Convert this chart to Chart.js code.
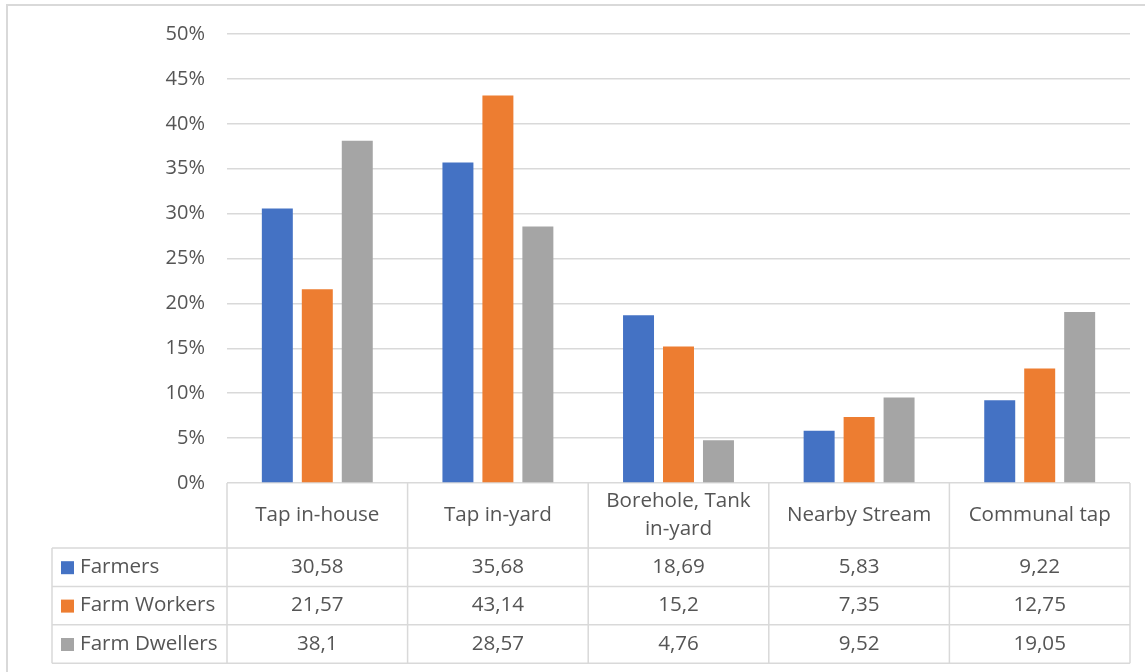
<!DOCTYPE html>
<html>
<head>
<meta charset="utf-8">
<script src="https://cdn.jsdelivr.net/npm/chart.js@4/dist/chart.umd.min.js"></script>
<style>
  html, body { margin: 0; padding: 0; background: #ffffff; }
  canvas { display: block; }
</style>
</head>
<body>
<canvas id="chart" width="1145" height="672"></canvas>
<script>
// Water source categories (multi-line labels are arrays)
const categories = ['Tap in-house', 'Tap in-yard', ['Borehole, Tank', 'in-yard'], 'Nearby Stream', 'Communal tap'];

// Series names and values (percent of respondents)
const seriesNames = ['Farmers', 'Farm Workers', 'Farm Dwellers'];
const farmers      = [30.58, 35.68, 18.69, 5.83, 9.22];
const farmWorkers  = [21.57, 43.14, 15.2, 7.35, 12.75];
const farmDwellers = [38.1, 28.57, 4.76, 9.52, 19.05];

// Y axis range
const yMin = 0;
const yMax = 50;
const yStep = 5;

const seriesColors = ['#4472C4', '#ED7D31', '#A5A5A5'];
const textColor = '#555555';
const lineColor = '#d9d9d9';
const fontFamily = '"Open Sans", "DejaVu Sans", sans-serif';
const tickFontSize = 20;
const tableFontSize = 20.6;

// Table geometry below the plot
const headerHeight = 65;
const rowHeight = 38.4;
const tableLeft = 52;

// Decimal comma formatting for the table values
const fmt = v => String(v).replace('.', ',');

// Light frame around the chart
const chartFrame = {
  id: 'chartFrame',
  beforeDraw(chart) {
    const ctx = chart.ctx;
    ctx.save();
    ctx.strokeStyle = lineColor;
    ctx.lineWidth = 2;
    ctx.beginPath();
    ctx.moveTo(7, chart.height);
    ctx.lineTo(7, 5);
    ctx.lineTo(chart.width, 5);
    ctx.stroke();
    ctx.restore();
  }
};

// Data table with category headers and legend keys, aligned to the x scale
const dataTable = {
  id: 'dataTable',
  afterDraw(chart) {
    const ctx = chart.ctx;
    const area = chart.chartArea;
    const xs = chart.scales.x;
    const n = categories.length;
    const step = (area.right - area.left) / n;
    const headerBottom = area.bottom + headerHeight;
    const datasets = chart.data.datasets;
    const tableBottom = headerBottom + rowHeight * datasets.length;

    ctx.save();
    ctx.strokeStyle = lineColor;
    ctx.lineWidth = 1.5;
    ctx.beginPath();
    for (let r = 0; r <= datasets.length; r++) {
      const y = headerBottom + r * rowHeight;
      ctx.moveTo(tableLeft, y);
      ctx.lineTo(area.right, y);
    }
    for (let i = 0; i <= n; i++) {
      const x = area.left + i * step;
      ctx.moveTo(x, area.bottom);
      ctx.lineTo(x, tableBottom);
    }
    ctx.moveTo(tableLeft, headerBottom);
    ctx.lineTo(tableLeft, tableBottom);
    ctx.stroke();

    ctx.font = tableFontSize + 'px ' + fontFamily;
    ctx.fillStyle = textColor;
    ctx.textAlign = 'center';
    ctx.textBaseline = 'middle';
    const headerMid = (area.bottom + headerBottom) / 2;
    const lh = 28;
    categories.forEach((c, i) => {
      const lines = Array.isArray(c) ? c : [c];
      const cx = xs.getPixelForValue(i);
      lines.forEach((l, j) => {
        ctx.fillText(l, cx, headerMid + (j - (lines.length - 1) / 2) * lh);
      });
    });

    datasets.forEach((ds, r) => {
      const cy = headerBottom + (r + 0.5) * rowHeight;
      ctx.fillStyle = ds.backgroundColor;
      ctx.fillRect(61, cy - 6, 13, 13);
      ctx.fillStyle = textColor;
      ctx.textAlign = 'left';
      ctx.fillText(ds.label, 80, cy);
      ctx.textAlign = 'center';
      ds.data.forEach((v, i) => {
        ctx.fillText(fmt(v), xs.getPixelForValue(i), cy);
      });
    });
    ctx.restore();
  }
};

const seriesData = [farmers, farmWorkers, farmDwellers];

new Chart(document.getElementById('chart'), {
  type: 'bar',
  data: {
    labels: categories,
    datasets: seriesNames.map((name, i) => ({
      label: name,
      data: seriesData[i],
      backgroundColor: seriesColors[i],
      borderWidth: 0,
      barPercentage: 0.775,
      categoryPercentage: 0.664
    }))
  },
  options: {
    responsive: false,
    animation: false,
    devicePixelRatio: 1,
    layout: { padding: { top: 34, right: 15, bottom: 189, left: 0 } },
    plugins: {
      legend: { display: false },
      tooltip: { enabled: false }
    },
    scales: {
      x: {
        display: false
      },
      y: {
        min: yMin,
        max: yMax,
        afterFit(scale) { scale.width = 227; },
        border: { display: false },
        grid: { color: lineColor, lineWidth: 1.5, drawTicks: false },
        ticks: {
          stepSize: yStep,
          padding: 22,
          color: textColor,
          font: { family: fontFamily, size: tickFontSize },
          callback: v => v + '%'
        }
      }
    }
  },
  plugins: [chartFrame, dataTable]
});
</script>
</body>
</html>
